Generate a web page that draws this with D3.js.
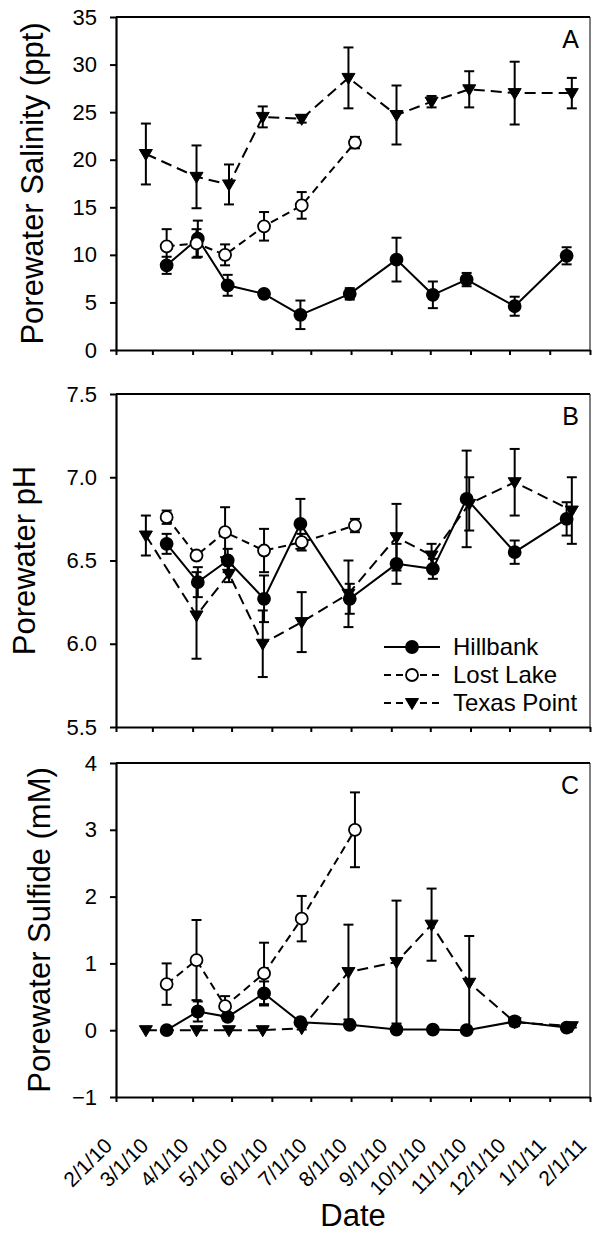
<!DOCTYPE html>
<html>
<head>
<meta charset="utf-8">
<script src="https://cdn.jsdelivr.net/npm/d3@7"></script>
<style>
  body { margin: 0; background: #fff; }
  svg text { font-family: "Liberation Sans", Arial, sans-serif; fill: #000; }
</style>
</head>
<body>
<div id="chart"></div>
<script>
// Sampling dates per site
var datesHB = ["2010-03-12","2010-04-05","2010-04-28","2010-05-26","2010-06-23","2010-07-31","2010-09-05","2010-10-03","2010-10-29","2010-12-05","2011-01-14"];
var datesLL = ["2010-03-12","2010-04-04","2010-04-26","2010-05-26","2010-06-24","2010-08-04"];
var datesTP = ["2010-02-24","2010-04-04","2010-04-29","2010-05-25","2010-06-24","2010-07-30","2010-09-05","2010-10-02","2010-10-31","2010-12-05","2011-01-18"];

// Salinity (ppt)
var salHB = [8.9, 11.7, 6.8, 5.9, 3.7, 5.9, 9.5, 5.8, 7.4, 4.6, 9.9];
var salHBerr = [0.9, 1.9, 1.1, 0.4, 1.5, 0.6, 2.3, 1.4, 0.7, 1.0, 0.9];
var salLL = [10.9, 11.2, 10.0, 13.0, 15.2, 21.8];
var salLLerr = [1.8, 1.5, 1.1, 1.5, 1.4, 0.6];
var salTP = [20.6, 18.2, 17.4, 24.5, 24.3, 28.6, 24.7, 26.1, 27.4, 27.0, 27.0];
var salTPerr = [3.2, 3.3, 2.1, 1.1, 0.4, 3.2, 3.1, 0.6, 1.9, 3.3, 1.6];

// pH
var phHB = [6.60, 6.37, 6.50, 6.27, 6.72, 6.27, 6.48, 6.45, 6.87, 6.55, 6.75];
var phHBerr = [0.06, 0.09, 0.07, 0.14, 0.15, 0.09, 0.12, 0.06, 0.29, 0.07, 0.10];
var phLL = [6.76, 6.53, 6.67, 6.56, 6.61, 6.71];
var phLLerr = [0.04, 0.02, 0.15, 0.13, 0.05, 0.04];
var phTP = [6.65, 6.17, 6.42, 6.00, 6.13, 6.30, 6.64, 6.53, 6.84, 6.97, 6.80];
var phTPerr = [0.12, 0.26, 0.05, 0.20, 0.18, 0.20, 0.20, 0.07, 0.16, 0.20, 0.20];

// Sulfide (mM)
var sulHB = [0.0, 0.28, 0.20, 0.55, 0.12, 0.08, 0.01, 0.01, 0.0, 0.13, 0.04];
var sulHBerr = [0.02, 0.15, 0.05, 0.18, 0.04, 0.03, 0, 0, 0, 0.07, 0.02];
var sulLL = [0.69, 1.05, 0.36, 0.85, 1.67, 3.0];
var sulLLerr = [0.31, 0.60, 0.15, 0.46, 0.34, 0.56];
var sulTP = [0, 0, 0, 0, 0.03, 0.87, 1.02, 1.58, 0.71, 0.12, 0.06];
var sulTPerr = [0, 0, 0, 0, 0.02, 0.71, 0.92, 0.54, 0.70, 0.05, 0.02];

var siteNames = ["Hillbank", "Lost Lake", "Texas Point"];
var xStart = "2010-02-01", xEnd = "2011-02-01";

// size
var svgW = 592, svgH = 1237;
var left = 116, right = 590;

var parse = d3.timeParse("%Y-%m-%d");

var svg = d3.select("#chart").append("svg")
  .attr("width", svgW)
  .attr("height", svgH);

var x = d3.scaleTime()
  .domain([parse(xStart), parse(xEnd)])
  .range([left, right]);

// series styles: solid/filled, dashed/open circle, dashed/triangle
var styles = [
  { dash: null, fill: "#000", shape: "circle" },
  { dash: "8,5", fill: "#fff", shape: "circle" },
  { dash: "11,6", fill: "#000", shape: "triangle" }
];

function zip(dates, vals, errs) {
  return dates.map(function (d, i) { return { date: parse(d), v: vals[i], e: errs[i] }; });
}

function marker(g, shape, fill) {
  if (shape == "circle") {
    return g.append("circle").attr("r", 6).attr("fill", fill)
      .attr("stroke", "#000").attr("stroke-width", 1.8);
  }
  return g.append("path").attr("d", "M-6.5,-4.5L6.5,-4.5L0,6.5Z")
    .attr("fill", fill).attr("stroke", "#000").attr("stroke-width", 1);
}

var panels = [
  { top: 17, bottom: 350, domain: [0, 35], ticks: [0,5,10,15,20,25,30,35], fmt: d3.format("d"),
    title: "Porewater Salinity (ppt)", titleX: 43, letter: "A",
    series: [zip(datesHB, salHB, salHBerr), zip(datesLL, salLL, salLLerr), zip(datesTP, salTP, salTPerr)] },
  { top: 394, bottom: 727, domain: [5.5, 7.5], ticks: [5.5,6.0,6.5,7.0,7.5], fmt: d3.format(".1f"),
    title: "Porewater pH", titleX: 35, letter: "B", legend: true,
    series: [zip(datesHB, phHB, phHBerr), zip(datesLL, phLL, phLLerr), zip(datesTP, phTP, phTPerr)] },
  { top: 763, bottom: 1097, domain: [-1, 4], ticks: [-1,0,1,2,3,4], fmt: d3.format("d"),
    title: "Porewater Sulfide (mM)", titleX: 50, letter: "C", xlabels: true,
    series: [zip(datesHB, sulHB, sulHBerr), zip(datesLL, sulLL, sulLLerr), zip(datesTP, sulTP, sulTPerr)] }
];

panels.forEach(function (p) {
  var y = d3.scaleLinear().domain(p.domain).range([p.bottom, p.top]);
  var g = svg.append("g");

  // frame: top and right
  g.append("line").attr("x1", left).attr("x2", right).attr("y1", p.top).attr("y2", p.top)
    .attr("stroke", "#000").attr("stroke-width", 2);
  g.append("line").attr("x1", right).attr("x2", right).attr("y1", p.top).attr("y2", p.bottom)
    .attr("stroke", "#000").attr("stroke-width", 1);

  // y axis
  var yAxis = g.append("g").attr("transform", "translate(" + left + ",0)")
    .call(d3.axisLeft(y).tickValues(p.ticks).tickFormat(p.fmt).tickSize(6).tickPadding(13).tickSizeOuter(0));
  yAxis.select(".domain").attr("stroke-width", 2.2);
  yAxis.selectAll(".tick line").attr("stroke-width", 2);
  yAxis.selectAll("text").attr("font-size", 22).attr("font-family", "Liberation Sans, Arial, sans-serif");

  // x axis
  var xAxis = g.append("g").attr("transform", "translate(0," + p.bottom + ")")
    .call(d3.axisBottom(x).ticks(d3.timeMonth.every(1)).tickFormat(d3.timeFormat("%-m/%-d/%y")).tickSize(5).tickSizeOuter(0));
  xAxis.select(".domain").attr("stroke-width", 2.2);
  xAxis.selectAll(".tick line").attr("stroke-width", 2);
  if (p.xlabels) {
    xAxis.selectAll("text")
      .attr("y", 0).attr("dy", 0).attr("x", 0)
      .attr("transform", "translate(-3,50) rotate(-45)")
      .attr("text-anchor", "end")
      .attr("font-size", 21)
      .attr("font-family", "Liberation Sans, Arial, sans-serif");
  } else {
    xAxis.selectAll("text").remove();
  }

  // title
  g.append("text")
    .attr("transform", "translate(" + p.titleX + "," + ((p.top + p.bottom) / 2) + ") rotate(-90)")
    .attr("text-anchor", "middle")
    .attr("font-size", 31)
    .text(p.title);

  g.append("text").attr("x", 579).attr("y", p.top + 31)
    .attr("text-anchor", "end").attr("font-size", 25).text(p.letter);

  // series
  p.series.forEach(function (data, si) {
    var st = styles[si];
    var sg = g.append("g");
    var line = d3.line().x(function (d) { return x(d.date); }).y(function (d) { return y(d.v); });
    sg.append("path").datum(data).attr("d", line)
      .attr("fill", "none").attr("stroke", "#000").attr("stroke-width", 2)
      .attr("stroke-dasharray", st.dash);

    var eb = sg.selectAll(".eb").data(data.filter(function (d) { return d.e > 0; })).enter().append("g");
    eb.append("line")
      .attr("x1", function (d) { return x(d.date); }).attr("x2", function (d) { return x(d.date); })
      .attr("y1", function (d) { return y(d.v - d.e); }).attr("y2", function (d) { return y(d.v + d.e); })
      .attr("stroke", "#000").attr("stroke-width", 2);
    [-1, 1].forEach(function (s) {
      eb.append("line")
        .attr("x1", function (d) { return x(d.date) - 5; }).attr("x2", function (d) { return x(d.date) + 5; })
        .attr("y1", function (d) { return y(d.v + s * d.e); }).attr("y2", function (d) { return y(d.v + s * d.e); })
        .attr("stroke", "#000").attr("stroke-width", 2);
    });

    data.forEach(function (d) {
      var m = sg.append("g").attr("transform", "translate(" + x(d.date) + "," + y(d.v) + ")");
      marker(m, st.shape, st.fill);
    });
  });

  // legend
  if (p.legend) {
    siteNames.forEach(function (name, i) {
      var ly = 647 + i * 28;
      var st = styles[i];
      var lg = g.append("g");
      lg.append("line").attr("x1", 384).attr("x2", 440).attr("y1", ly).attr("y2", ly)
        .attr("stroke", "#000").attr("stroke-width", 2).attr("stroke-dasharray", st.dash ? "7,5" : null);
      marker(lg.append("g").attr("transform", "translate(412," + ly + ")"), st.shape, st.fill);
      lg.append("text").attr("x", 453).attr("y", ly + 8).attr("font-size", 24).text(name);
    });
  }
});

// x title
svg.append("text")
  .attr("x", (left + right) / 2)
  .attr("y", 1226)
  .attr("text-anchor", "middle")
  .attr("font-size", 31)
  .text("Date");
</script>
</body>
</html>
